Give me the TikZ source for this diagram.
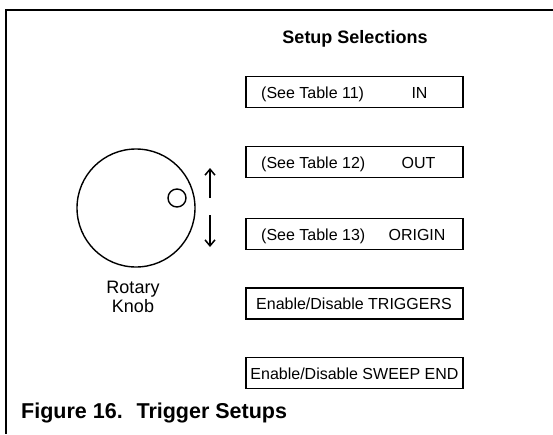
\documentclass[tikz,border=0pt]{standalone}
\usepackage{fontspec}
\setmainfont{Liberation Sans}
\usetikzlibrary{arrows.meta}
\begin{document}
\begin{tikzpicture}[x=1pt,y=-1pt,
  selbox/.style={draw, line width=1.8pt, minimum width=217pt, minimum height=31pt, inner sep=0pt},
  boxtext/.style={font=\fontsize{16}{19}\selectfont, inner sep=0pt},
  frameline/.style={line width=2.5pt},
  knobline/.style={line width=1.4pt},
  turn/.style={line width=1.5pt, -{Straight Barb[length=6pt,width=10pt]}}]
\useasboundingbox (0,0) rectangle (553,434);
% frame
\coordinate (fTL) at (6,10);
\coordinate (fTR) at (553,10);
\coordinate (fBL) at (6,434);
\draw[frameline] (fTR) -- (fTL) -- (fBL);
% title
\node[anchor=base, inner sep=0pt, font=\fontsize{18}{21}\selectfont\bfseries] (title) at (355,43) {Setup Selections};
% boxes
\node[selbox] (b1) at (354.5,92) {};
\node[selbox] (b2) at (354.5,162) {};
\node[selbox] (b3) at (354.5,234) {};
\node[selbox] (b4) at (354.5,303.5) {};
\node[selbox] (b5) at (354.5,373) {};
\node[boxtext, anchor=base west] (t1a) at (261,98) {(See Table 11)};
\node[boxtext, anchor=base] (t1b) at (419.5,98) {IN};
\node[boxtext, anchor=base west] (t2a) at (261,168) {(See Table 12)};
\node[boxtext, anchor=base] (t2b) at (418.5,168) {OUT};
\node[boxtext, anchor=base west] (t3a) at (261,240) {(See Table 13)};
\node[boxtext, anchor=base] (t3b) at (417,240) {ORIGIN};
\node[boxtext, anchor=base] (t4) at (354,309.5) {Enable/Disable TRIGGERS};
\node[boxtext, anchor=base] (t5) at (354.5,379) {Enable/Disable SWEEP END};
% knob
\node[knobline, draw, circle, minimum size=118pt, inner sep=0pt] (knob) at (136,208) {};
\node[knobline, draw, circle, minimum size=18pt, inner sep=0pt] (dot) at (177,198) {};
\node[anchor=base, inner sep=0pt, font=\fontsize{18}{21}\selectfont] (lbl1) at (133,293) {Rotary};
\node[anchor=base, inner sep=0pt, font=\fontsize{18}{21}\selectfont] (lbl2) at (133,312) {Knob};
% arrows
\coordinate (u1) at (210,198);
\coordinate (u2) at (210,168);
\coordinate (d1) at (210,215);
\coordinate (d2) at (210,247);
\draw[turn] (u1) -- (u2);
\draw[turn] (d1) -- (d2);
% caption
\node[anchor=base west, inner sep=0pt, font=\fontsize{21.5}{25}\selectfont\bfseries] (cap) at (21,418) {Figure 16.\hspace{0.27em} Trigger Setups};
\end{tikzpicture}
\end{document}
